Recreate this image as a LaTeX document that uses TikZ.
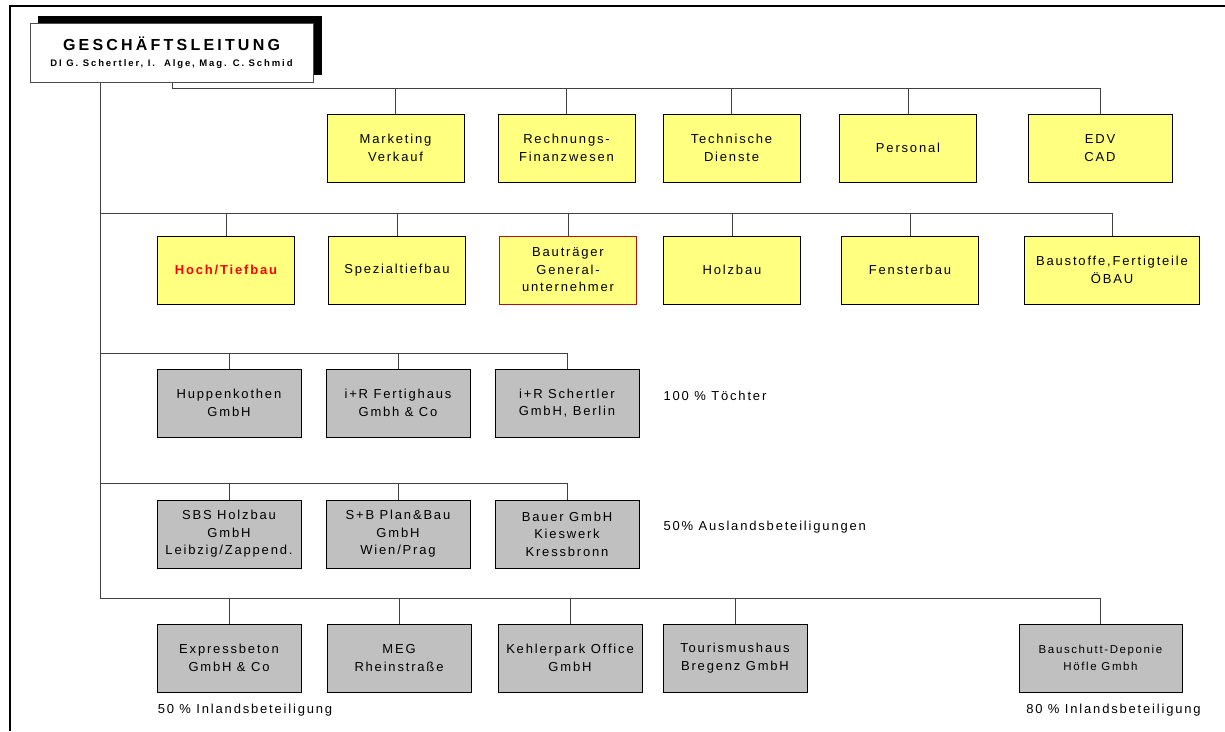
\documentclass[tikz,border=0pt]{standalone}
\usepackage{fontspec}
\setmainfont{Liberation Sans}
\newfontfamily\orgfont[LetterSpace=14]{Liberation Sans}
\newfontfamily\kopffont[LetterSpace=20]{Liberation Sans}
\usetikzlibrary{positioning}

\definecolor{gelb}{RGB}{255,255,128}
\definecolor{grau}{RGB}{192,192,192}
\definecolor{linie}{RGB}{64,64,64}
\definecolor{dunkelrot}{RGB}{170,20,20}

\tikzset{
  abt/.style={draw=black, line width=0.8pt, fill=gelb, minimum width=137pt, minimum height=68pt,
    inner sep=0pt, align=center, font=\orgfont\fontsize{13}{17.5}\selectfont},
  firma/.style={abt, fill=grau, minimum width=144pt},
  klein/.style={font=\orgfont\fontsize{11.5}{16.5}\selectfont},
  notiz/.style={inner sep=0pt, font=\orgfont\fontsize{13}{17.5}\selectfont},
  verb/.style={draw=linie, line width=0.9pt}
}

\begin{document}
\begin{tikzpicture}[x=1pt,y=1pt,yscale=-1,xscale=1]
\useasboundingbox (0,0) rectangle (1225,731);

%Frame
\draw [line width=2pt] (10,731) -- (10,6) -- (1225,6) ;

%Geschaeftsleitung with shadow
\node [fill=black, minimum width=284pt, minimum height=59pt] (glschatten) at (180,45.5) {};
\node [draw=black!70, fill=white, minimum width=283pt, minimum height=59pt, inner sep=0pt, align=center] (gl) at (171.5,53)
  {{\kopffont\bfseries\fontsize{16}{18}\selectfont GESCHÄFTSLEITUNG}\\[4pt]
   {\kopffont\bfseries\fontsize{9.5}{11}\selectfont DI G. Schertler, I.\ \ Alge, Mag. C. Schmid}};

%Abteilungen
\node [abt] (mark) at (395.5,148) {Marketing\\Verkauf};
\node [abt] (rech) at (566.5,148) {Rechnungs-\\Finanzwesen};
\node [abt] (tech) at (731.5,148) {Technische\\Dienste};
\node [abt] (pers) at (908,148) {Personal};
\node [abt, minimum width=144pt] (edv) at (1100,148) {EDV\\CAD};

%Sparten
\node [abt, text=red] (hoch) at (226,270) {\bfseries Hoch/Tiefbau};
\node [abt] (spez) at (397,270) {Spezialtiefbau};
\node [abt, draw=dunkelrot] (bautr) at (568,270) {Bauträger\\General-\\unternehmer};
\node [abt] (holz) at (732,270) {Holzbau};
\node [abt] (fenster) at (910,270) {Fensterbau};
\node [abt, minimum width=175pt] (baustoffe) at (1112,270) {Baustoffe,Fertigteile\\ÖBAU};

%Toechter
\node [firma] (huppen) at (229,403) {Huppenkothen\\GmbH};
\node [firma] (fertig) at (398,403) {i+R Fertighaus\\Gmbh \& Co};
\node [firma] (berlin) at (567,403) {i+R Schertler\\GmbH, Berlin};
\node [notiz, right=24pt of berlin, yshift=7pt] (toechter) {100 \% Töchter};

%Auslandsbeteiligungen
\node [firma] (sbs) at (229,534) {SBS Holzbau\\GmbH\\Leibzig/Zappend.};
\node [firma] (sb) at (398,534) {S+B Plan\&Bau\\GmbH\\Wien/Prag};
\node [firma] (bauer) at (567,534) {Bauer GmbH\\Kieswerk\\Kressbronn};
\node [notiz, right=24pt of bauer, yshift=7pt] (ausland) {50\% Auslandsbeteiligungen};

%Inlandsbeteiligungen
\node [firma] (express) at (229,658) {Expressbeton\\GmbH \& Co};
\node [firma] (meg) at (399,658) {MEG\\Rheinstraße};
\node [firma] (kehler) at (570,658) {Kehlerpark Office\\GmbH};
\node [firma] (tour) at (735,658) {Tourismushaus\\Bregenz GmbH};
\node [firma, klein, minimum width=163pt] (deponie) at (1100.5,658) {Bauschutt-Deponie\\Höfle Gmbh};
\node [notiz, below right=11pt and 1pt of express.south west] (inland50) {50 \% Inlandsbeteiligung};
\node [notiz, below=11pt of deponie, xshift=13pt] (inland80) {80 \% Inlandsbeteiligung};

%Connectors
\coordinate (bus1) at (172,88);
\coordinate (bus2) at (100,213);
\coordinate (bus3) at (100,353);
\coordinate (bus4) at (100,483);
\coordinate (bus5) at (100,598);

\draw [verb] (gl.south -| bus1) -- (bus1) -| (edv.north);
\foreach \n in {mark,rech,tech,pers}
  \draw [verb] (\n.north) -- (\n.north |- bus1);
\draw [verb] (gl.south -| bus2) -- (bus5);
\draw [verb] (bus2) -| (baustoffe.north);
\foreach \n in {hoch,spez,bautr,holz,fenster}
  \draw [verb] (\n.north) -- (\n.north |- bus2);
\draw [verb] (bus3) -| (berlin.north);
\foreach \n in {huppen,fertig}
  \draw [verb] (\n.north) -- (\n.north |- bus3);
\draw [verb] (bus4) -| (bauer.north);
\foreach \n in {sbs,sb}
  \draw [verb] (\n.north) -- (\n.north |- bus4);
\draw [verb] (bus5) -| (deponie.north);
\foreach \n in {express,meg,kehler,tour}
  \draw [verb] (\n.north) -- (\n.north |- bus5);

\end{tikzpicture}
\end{document}
